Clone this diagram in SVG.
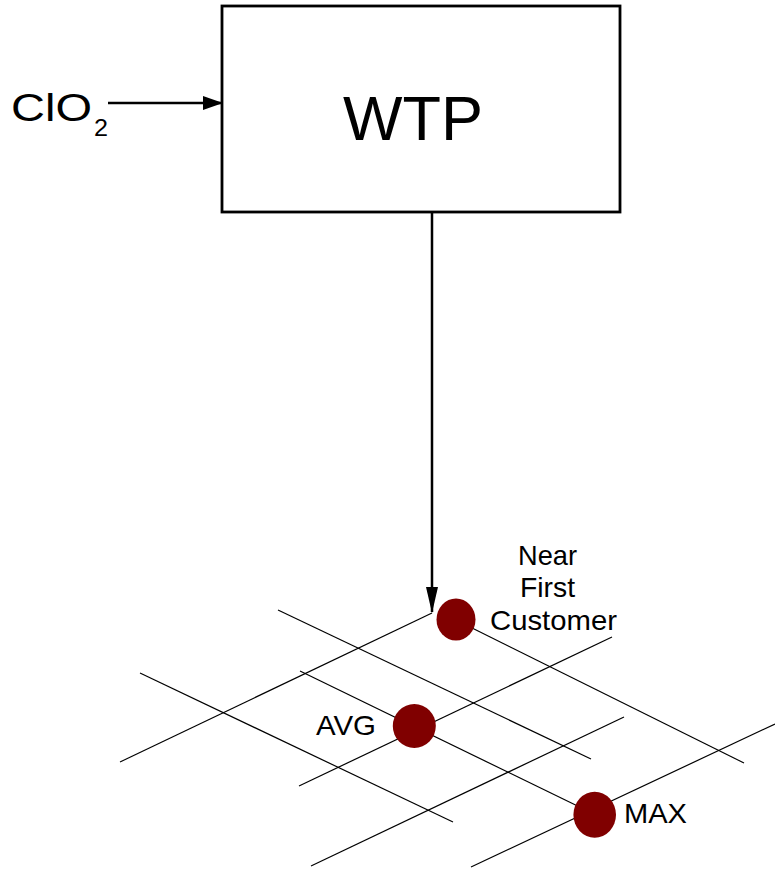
<svg xmlns="http://www.w3.org/2000/svg" width="775" height="869" viewBox="0 0 775 869">
<defs>
<style>
text{font-family:"Liberation Sans",Arial,sans-serif;fill:#000}
.grid line{stroke:#000;stroke-width:1.2}
.conn{stroke:#000;stroke-width:2.5;fill:none}
.dot{fill:#800000}
.lbl{font-size:28px}
</style>
<marker id="ah" markerWidth="20" markerHeight="14" refX="19" refY="7" orient="auto" markerUnits="userSpaceOnUse">
<path d="M0,0 L20,7 L0,14 Z" fill="#000"/>
</marker>
<marker id="ah2" markerWidth="26" markerHeight="12" refX="25" refY="6" orient="auto" markerUnits="userSpaceOnUse">
<path d="M0,0 L26,6 L0,12 Z" fill="#000"/>
</marker>
</defs>
<rect width="775" height="869" fill="#fff"/>
<g id="grid" class="grid">
<line x1="278" y1="610" x2="591" y2="759"/>
<line x1="456" y1="620" x2="744" y2="763"/>
<line x1="140" y1="673" x2="453" y2="822"/>
<line x1="300" y1="671" x2="594" y2="814"/>
<line x1="120" y1="762" x2="432" y2="613"/>
<line x1="299" y1="786" x2="612" y2="637"/>
<line x1="311" y1="866" x2="624" y2="717"/>
<line x1="471" y1="867" x2="775" y2="724"/>
</g>
<g id="wtp">
<rect x="222" y="6" width="398" height="206" fill="#fff" stroke="#000" stroke-width="2.8"/>
<text x="413" y="140" font-size="63" text-anchor="middle">WTP</text>
</g>
<g id="clo2">
<text x="11" y="121" font-size="38" textLength="81" lengthAdjust="spacingAndGlyphs">ClO</text>
<text x="94" y="135.5" font-size="23" textLength="14" lengthAdjust="spacingAndGlyphs">2</text>
</g>
<g id="connectors">
<line class="conn" x1="108" y1="103" x2="222" y2="103" marker-end="url(#ah)"/>
<line class="conn" x1="432" y1="212" x2="432" y2="612" marker-end="url(#ah2)"/>
</g>
<g id="near-first-customer">
<ellipse class="dot" cx="456" cy="619.5" rx="19.5" ry="21"/>
<text class="lbl" x="518" y="565" textLength="59" lengthAdjust="spacingAndGlyphs">Near</text>
<text class="lbl" x="520" y="597" textLength="55" lengthAdjust="spacingAndGlyphs">First</text>
<text class="lbl" x="490" y="630" textLength="127" lengthAdjust="spacingAndGlyphs">Customer</text>
</g>
<g id="avg">
<ellipse class="dot" cx="414.3" cy="726" rx="21.5" ry="22"/>
<text class="lbl" x="316" y="735" textLength="60" lengthAdjust="spacingAndGlyphs">AVG</text>
</g>
<g id="max">
<ellipse class="dot" cx="594.7" cy="814.7" rx="21.3" ry="23"/>
<text class="lbl" x="624" y="823" textLength="63" lengthAdjust="spacingAndGlyphs">MAX</text>
</g>
</svg>
